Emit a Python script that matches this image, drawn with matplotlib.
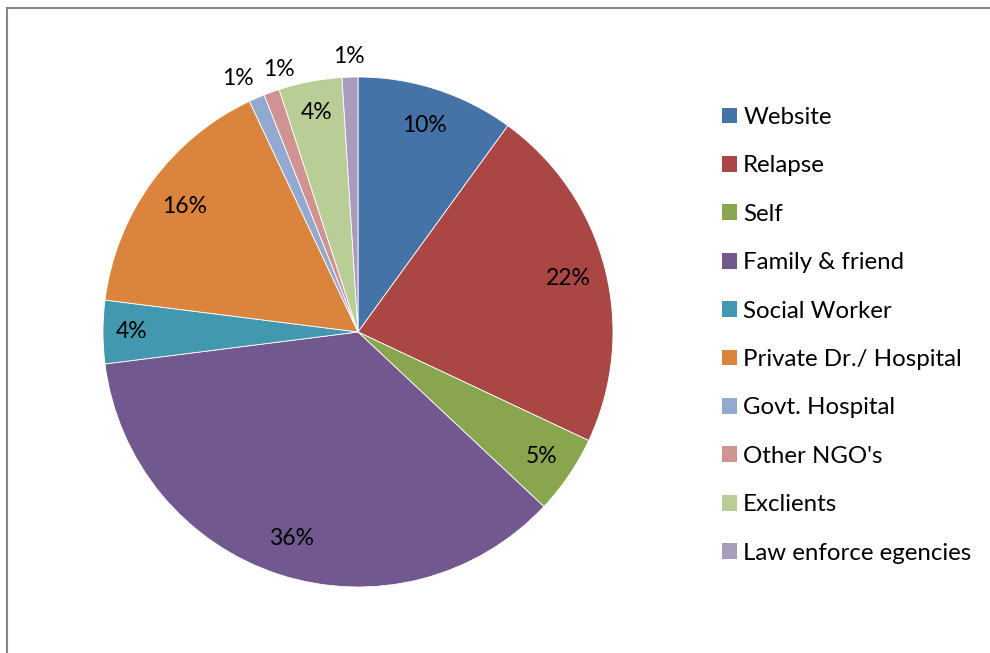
import numpy as np
import matplotlib
matplotlib.use("Agg")
import matplotlib.pyplot as plt
from matplotlib.patches import Patch
from matplotlib.lines import Line2D

categories = ["Website", "Relapse", "Self", "Family & friend", "Social Worker",
              "Private Dr./ Hospital", "Govt. Hospital", "Other NGO's",
              "Exclients", "Law enforce egencies"]
values = [10, 22, 5, 36, 4, 16, 1, 1, 4, 1]
colors = ["#4572A7", "#AA4643", "#89A54E", "#71588F", "#4198AF",
          "#DB843D", "#93A9CF", "#D19392", "#B9CD96", "#A99BBD"]
# label placement (fraction of radius) and angular nudge in degrees
label_dist = [0.85, 0.85, 0.87, 0.85, 0.89, 0.84, 1.10, 1.075, 0.875, 1.08]
label_nudge = [0, 0, 0, 0, 0, 0, 2, -3, 0, 0]

plt.rcParams['font.family'] = ['Lato', 'DejaVu Sans']

fig = plt.figure(figsize=(9.9, 6.53), dpi=100)
W, H = 990, 653
cx, cy, r = 358, 332, 255
ax = fig.add_axes([(cx - r) / W, (H - cy - r) / H, 2 * r / W, 2 * r / H])
wedges, _ = ax.pie(values, colors=colors, startangle=90, counterclock=False,
                   radius=1.0, wedgeprops=dict(edgecolor="white", linewidth=0.6))
ax.set_xlim(-1, 1)
ax.set_ylim(-1, 1)
ax.set_aspect("equal")
ax.axis("off")

total = sum(values)
for w, v, d, n in zip(wedges, values, label_dist, label_nudge):
    mid = np.deg2rad((w.theta1 + w.theta2) / 2 + n)
    ax.text(d * np.cos(mid), d * np.sin(mid), f"{round(100 * v / total)}%",
            ha="center", va="center", fontsize=16.5, color="#000000")

handles = [Patch(facecolor=c, edgecolor="none") for c in colors]
leg = fig.legend(handles, categories, loc="upper left",
                 bbox_to_anchor=(722 / W, 1 - 107 / H), frameon=False,
                 fontsize=17.3, handlelength=0.63, handleheight=0.63,
                 handletextpad=0.25, labelspacing=1.14, borderpad=0,
                 borderaxespad=0)

# chart frame (top and left edges visible)
fig.add_artist(Line2D([7 / W, 7 / W], [0, 1 - 8 / H], transform=fig.transFigure,
                      color="#868686", linewidth=1.5))
fig.add_artist(Line2D([7 / W, 1], [1 - 8 / H, 1 - 8 / H], transform=fig.transFigure,
                      color="#868686", linewidth=1.5))

fig.savefig("out.png", dpi=100)
